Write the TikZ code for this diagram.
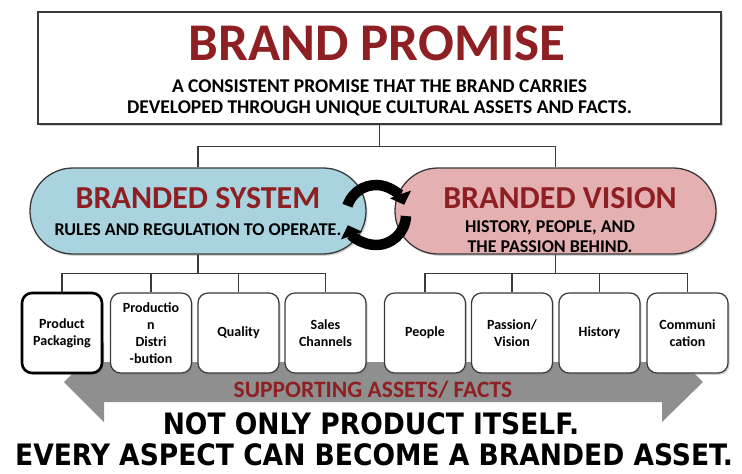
\documentclass[tikz,border=0pt]{standalone}
\usepackage{fontspec}
\setmainfont{Carlito}
\newfontfamily\condfont{DejaVu Sans Condensed Bold}
\usetikzlibrary{shadows,arrows.meta,calc}
\definecolor{brandred}{HTML}{8E1F22}
\definecolor{sysblue}{HTML}{A8D3DF}
\definecolor{vispink}{HTML}{E4B0B2}
\definecolor{arrowgray}{HTML}{8F8F8F}
\definecolor{edgegray}{HTML}{3A3A3A}
\begin{document}
\begin{tikzpicture}[x=1pt,y=-1pt,
  conn/.style={draw=edgegray, line width=1.3pt},
  softshadow/.style={drop shadow={shadow xshift=1.5pt, shadow yshift=-1.8pt, opacity=0.35}},
  assetbox/.style={draw=edgegray, line width=1.2pt, fill=white, rounded corners=10pt,
    minimum width=81pt, minimum height=80pt, inner sep=0pt, align=center,
    font=\bfseries\fontsize{14}{17}\selectfont, softshadow},
  capsule/.style={draw=edgegray, line width=1.3pt, rounded corners=43pt,
    minimum height=86pt, inner sep=0pt, softshadow},
  txt/.style={inner sep=0pt, anchor=base},
  cycarrow/.style={line width=10.5pt, -{Triangle[width=22pt,length=11pt]}},
]
\useasboundingbox[fill=white] (0,0) rectangle (742,474);

% gray double arrow
\path[fill=arrowgray] (64,382) -- (104,342) -- (104,362) -- (662,362) -- (662,342)
  -- (703,382) -- (662,422) -- (662,402) -- (104,402) -- (104,422) -- cycle;
\node[txt, font=\bfseries\fontsize{23.5}{26}\selectfont, text=brandred] (support) at (373,397) {SUPPORTING ASSETS/ FACTS};

% top box
\node[draw=edgegray, line width=1.2pt, fill=white, minimum width=683pt, minimum height=112pt,
  inner sep=0pt, softshadow] (promise) at (379.5,68) {};
\node[txt, font=\bfseries\fontsize{53}{60}\selectfont, text=brandred] (ptitle) at (377,60) {BRAND PROMISE};
\node[txt, font=\bfseries\fontsize{19.5}{22}\selectfont] (psub1) at (379.5,92) {A CONSISTENT PROMISE THAT THE BRAND CARRIES};
\node[txt, font=\bfseries\fontsize{19.5}{22}\selectfont] (psub2) at (379.5,113) {DEVELOPED THROUGH UNIQUE CULTURAL ASSETS AND FACTS.};

% capsules
\node[capsule, fill=sysblue, minimum width=336pt] (sys) at (198,211) {};
\node[capsule, fill=vispink, minimum width=321pt] (vis) at (555.5,211) {};
\node[txt, font=\bfseries\fontsize{32}{36}\selectfont, text=brandred] (systitle) at (198,208) {BRANDED SYSTEM};
\node[txt, font=\bfseries\fontsize{18}{20}\selectfont] (syssub) at (198,235) {RULES AND REGULATION TO OPERATE.};
\node[txt, font=\bfseries\fontsize{32}{36}\selectfont, text=brandred] (vistitle) at (560,208) {BRANDED VISION};
\node[txt, font=\bfseries\fontsize{18}{20}\selectfont] (vissub1) at (550,232) {HISTORY, PEOPLE, AND};
\node[txt, font=\bfseries\fontsize{18}{20}\selectfont] (vissub2) at (550,252) {THE PASSION BEHIND.};

% cycle arrows
\coordinate (cyc) at (376,215);
\draw[cycarrow] ($(cyc)+(-162:30)$) arc[start angle=-162, end angle=-20, radius=30];
\draw[cycarrow] ($(cyc)+(2:30)$) arc[start angle=2, end angle=160, radius=30];

% asset boxes
\node[assetbox, draw=black, line width=2.6pt, minimum width=80pt] (b1) at (62,333) {Product\\Packaging};
\node[assetbox] (b2) at (151,333) {Productio\\n\\Distri\\-bution};
\node[assetbox] (b3) at (238.5,333) {Quality};
\node[assetbox] (b4) at (325.5,333) {Sales\\Channels};
\node[assetbox] (b5) at (425,333) {People};
\node[assetbox] (b6) at (512,333) {Passion/\\Vision};
\node[assetbox] (b7) at (599.5,333) {History};
\node[assetbox] (b8) at (687.5,333) {Communi\\cation};

% connectors
\draw[conn] (promise.south) -- ++(0,22) -| (sys.north);
\draw[conn] (promise.south) -- ++(0,22) -| (vis.north);
\foreach \b in {b1,b2,b3,b4} \draw[conn] (sys.south) -- ++(0,19) -| (\b.north);
\foreach \b in {b5,b6,b7,b8} \draw[conn] (vis.south) -- ++(0,19) -| (\b.north);

% bottom text
\node[txt, font=\condfont\fontsize{29.5}{34}\selectfont] (bot1) at (371,434) {NOT ONLY PRODUCT ITSELF.};
\node[txt, font=\condfont\fontsize{29.5}{34}\selectfont] (bot2) at (374,465.5) {EVERY ASPECT CAN BECOME A BRANDED ASSET.};
\end{tikzpicture}
\end{document}
